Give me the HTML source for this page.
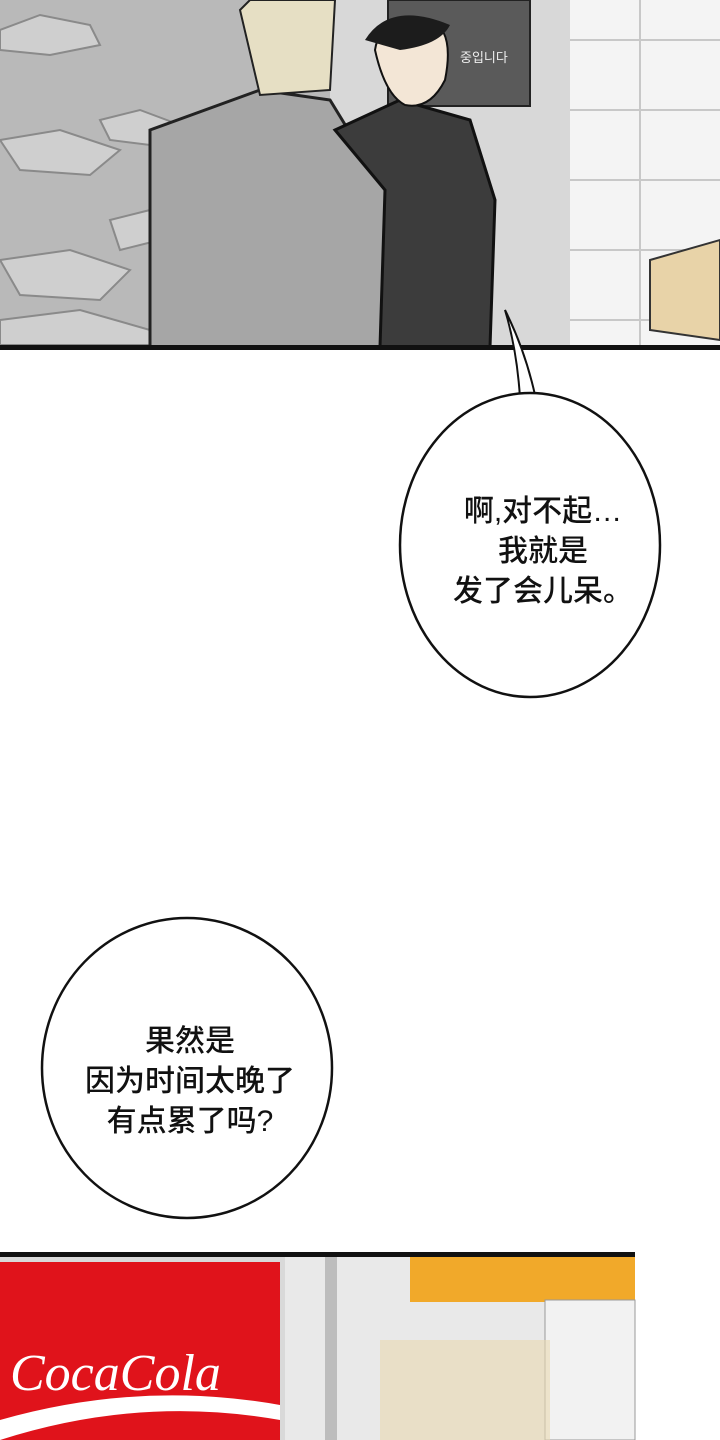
<!DOCTYPE html>
<html><head><meta charset="utf-8"><style>
html,body{margin:0;padding:0;background:#fff;}
body{width:720px;height:1440px;position:relative;overflow:hidden;font-family:"Liberation Sans","Noto Sans CJK SC",sans-serif;}
.t{position:absolute;font-size:30px;font-weight:500;color:#111;white-space:nowrap;text-align:center;line-height:40px;}
</style></head><body>
<svg width="720" height="1440" style="position:absolute;left:0;top:0">
<rect x="0" y="0" width="720" height="347" fill="#b9b9b9"/>
<g fill="#cfcfcf" stroke="#8a8a8a" stroke-width="2">
<polygon points="0,30 40,15 90,25 100,45 50,55 0,50"/>
<polygon points="100,120 140,110 180,125 150,145 110,140"/>
<polygon points="0,140 60,130 120,150 90,175 20,170"/>
<polygon points="110,220 150,210 160,240 120,250"/>
<polygon points="0,260 70,250 130,270 100,300 20,295"/>
<polygon points="0,320 80,310 150,330 150,345 0,345"/>
</g>
<rect x="330" y="0" width="260" height="347" fill="#d8d8d8"/>
<rect x="570" y="0" width="150" height="347" fill="#f4f4f4"/>
<g stroke="#c8c8c8" stroke-width="2">
<line x1="570" y1="40" x2="720" y2="40"/><line x1="570" y1="110" x2="720" y2="110"/><line x1="570" y1="180" x2="720" y2="180"/><line x1="570" y1="250" x2="720" y2="250"/><line x1="570" y1="320" x2="720" y2="320"/>
<line x1="640" y1="0" x2="640" y2="347"/>
</g>
<rect x="388" y="0" width="142" height="106" fill="#5a5a5a" stroke="#222" stroke-width="2"/>
<text x="460" y="62" font-size="13" fill="#eee" font-family="Noto Sans CJK KR,sans-serif">중입니다</text>
<polygon points="650,260 720,240 720,340 650,330" fill="#e8d3a8" stroke="#333" stroke-width="2"/>
<path d="M150,130 L260,90 L330,100 L385,190 L390,347 L150,347 Z" fill="#a6a6a6" stroke="#222" stroke-width="3"/>
<path d="M240,10 L250,0 L335,0 L330,90 L260,95 Z" fill="#e6dfc4" stroke="#222" stroke-width="2"/>
<path d="M335,130 L400,100 L470,120 L495,200 L490,347 L380,347 L385,190 Z" fill="#3c3c3c" stroke="#111" stroke-width="3"/>
<path d="M375,50 Q380,15 430,20 Q455,30 445,80 Q430,110 405,105 Q385,95 375,50Z" fill="#f3e6d6" stroke="#111" stroke-width="2"/>
<path d="M365,40 Q390,0 450,25 Q440,45 400,50 Z" fill="#1c1c1c"/>
<rect x="0" y="345" width="720" height="5" fill="#111"/>
<path d="M505,310 Q525,350 535,395 L520,398 Q517,350 505,310Z" fill="#fff" stroke="#111" stroke-width="2"/>
<ellipse cx="530" cy="545" rx="130" ry="152" fill="#fff" stroke="#111" stroke-width="2.5"/>
<path d="M518,398 L537,398" stroke="#fff" stroke-width="4"/>
<ellipse cx="187" cy="1068" rx="145" ry="150" fill="#fff" stroke="#111" stroke-width="2.5"/>
<rect x="0" y="1252" width="635" height="188" fill="#d9d9d9"/>
<rect x="0" y="1252" width="635" height="5" fill="#111"/>
<rect x="285" y="1257" width="350" height="183" fill="#e9e9e9"/>
<rect x="410" y="1257" width="225" height="45" fill="#f1a92a"/>
<rect x="545" y="1300" width="90" height="140" fill="#f2f2f2" stroke="#999"/>
<rect x="380" y="1340" width="170" height="100" fill="#ead8b0" opacity="0.6"/>
<rect x="325" y="1257" width="12" height="183" fill="#bdbdbd"/>
<rect x="0" y="1262" width="280" height="178" fill="#e0131b"/>
<path d="M0,1420 Q140,1380 280,1405 L280,1420 Q140,1395 0,1440Z" fill="#fff"/>
<text x="10" y="1390" font-size="52" font-style="italic" font-family="Liberation Serif,serif" fill="#fff">CocaCola</text>
</svg>
<div class="t" style="left:413px;top:492px;width:260px;">啊,对不起…<br>我就是<br>发了会儿呆。</div>
<div class="t" style="left:45px;top:1022px;width:290px;">果然是<br>因为时间太晚了<br>有点累了吗?</div>
</body></html>
